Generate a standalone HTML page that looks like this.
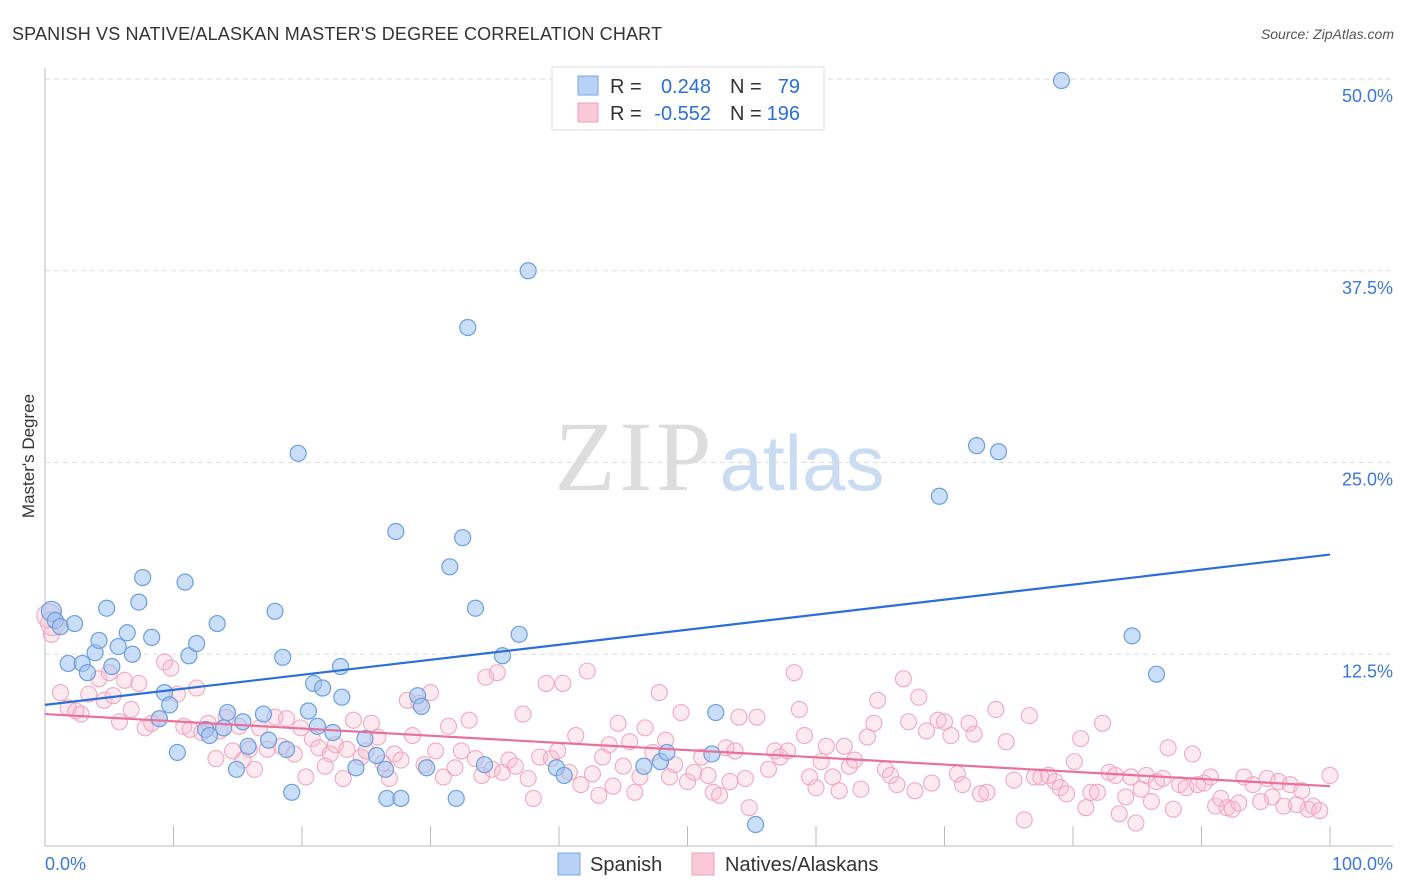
<!DOCTYPE html>
<html><head><meta charset="utf-8"><style>
body{margin:0;background:#fff;font-family:"Liberation Sans",sans-serif;}
svg{display:block}
</style></head><body>
<svg id="chart" width="1406" height="892" xmlns="http://www.w3.org/2000/svg">
<text x="12" y="40" font-size="18" fill="#333" textLength="650">SPANISH VS NATIVE/ALASKAN MASTER'S DEGREE CORRELATION CHART</text>
<text x="1394" y="39" font-size="14" font-style="italic" fill="#555" text-anchor="end">Source: ZipAtlas.com</text>
<text x="34" y="456" font-size="17" fill="#333" text-anchor="middle" transform="rotate(-90 34 456)">Master's Degree</text>
<g>
<text x="633" y="490" font-size="100" font-family="Liberation Serif,serif" fill="#ddd" text-anchor="middle" textLength="157">ZIP</text>
<text x="802" y="490" font-size="78" fill="#c9dcf2" text-anchor="middle" textLength="165">atlas</text>
</g>
<g id="grid"></g><g id="axes"></g><g id="pink"></g><g id="blue"></g><g id="lines"></g>
<g>
<rect x="552" y="67" width="272" height="63" fill="#fff" stroke="#ddd"/>
<rect x="578" y="76" width="20" height="19" fill="#b8d2f5" stroke="#7aa6e4"/>
<rect x="578" y="103" width="20" height="19" fill="#f9c9d8" stroke="#f0a0b8"/>
<text x="610" y="93" font-size="20" fill="#333">R =</text><text x="711" y="93" font-size="20" fill="#2a6fd6" text-anchor="end">0.248</text>
<text x="730" y="93" font-size="20" fill="#333">N =</text><text x="800" y="93" font-size="20" fill="#2a6fd6" text-anchor="end">79</text>
<text x="610" y="120" font-size="20" fill="#333">R =</text><text x="711" y="120" font-size="20" fill="#2a6fd6" text-anchor="end">-0.552</text>
<text x="730" y="120" font-size="20" fill="#333">N =</text><text x="800" y="120" font-size="20" fill="#2a6fd6" text-anchor="end">196</text>
</g>
<g>
<rect x="558" y="853" width="22" height="22" fill="#b8d2f5" stroke="#7aa6e4"/>
<text x="590" y="871" font-size="20" fill="#333">Spanish</text>
<rect x="692" y="853" width="22" height="22" fill="#f9c9d8" stroke="#f0a0b8"/>
<text x="725" y="871" font-size="20" fill="#333">Natives/Alaskans</text>
</g>
</svg>
<script>
const yTicks=[12.5,25,37.5,50];
const yTickLabels=["12.5%","25.0%","37.5%","50.0%"];
const blueX=[0.5,0.8,1.2,2.3,1.8,2.9,3.3,3.9,4.2,4.8,5.2,5.7,6.4,6.8,7.3,7.6,8.3,9.3,9.7,8.9,10.3,10.9,11.2,11.8,12.5,12.8,13.4,13.9,14.2,14.9,15.4,15.8,17.0,17.4,17.9,18.5,18.8,19.2,19.7,20.5,20.9,21.2,21.6,22.4,23.0,23.1,24.2,24.9,25.8,26.5,26.6,27.3,27.7,29.0,29.3,29.7,31.5,32.0,32.5,32.9,33.5,34.2,35.6,36.9,37.6,39.8,40.4,46.6,47.9,48.4,51.9,52.2,55.3,69.6,72.5,74.2,79.1,84.6,86.5];
const blueY=[15.3,14.7,14.3,14.5,11.9,11.9,11.3,12.6,13.4,15.5,11.7,13.0,13.9,12.5,15.9,17.5,13.6,10.0,9.2,8.3,6.1,17.2,12.4,13.2,7.6,7.2,14.5,7.7,8.7,5.0,8.1,6.5,8.6,6.9,15.3,12.3,6.3,3.5,25.6,8.8,10.6,7.8,10.3,7.4,11.7,9.7,5.1,7.0,5.9,5.0,3.1,20.5,3.1,9.8,9.1,5.1,18.2,3.1,20.1,33.8,15.5,5.3,12.4,13.8,37.5,5.1,4.6,5.2,5.5,6.1,6.0,8.7,1.4,22.8,26.1,25.7,49.9,13.7,11.2];
const pinkX=[0.3,0.5,1.2,1.8,2.4,2.8,3.4,4.2,4.6,5.0,5.3,5.8,6.2,6.7,7.3,7.8,8.3,8.9,9.3,9.8,10.3,10.8,11.3,11.8,12.2,12.7,13.3,13.6,14.1,14.6,15.1,15.4,15.9,16.3,16.7,17.3,17.9,18.4,18.8,19.4,19.9,20.3,20.8,21.3,21.8,22.2,22.6,23.2,23.5,24.0,24.6,25.0,25.4,25.9,26.3,26.8,27.2,27.7,28.2,28.6,29.1,29.5,30.0,30.4,31.0,31.4,31.9,32.4,33.0,33.5,34.0,34.3,34.8,35.2,35.6,36.1,36.6,37.2,37.6,38.0,38.5,39.0,39.4,39.9,40.3,40.8,41.3,41.7,42.2,42.6,43.1,43.4,43.9,44.2,44.6,45.0,45.5,45.9,46.3,46.7,47.3,47.8,48.3,48.6,49.0,49.5,50.0,50.5,51.1,51.6,52.0,52.5,53.0,53.3,53.7,54.0,54.5,54.8,55.4,56.3,56.8,57.2,57.8,58.3,58.7,59.1,59.5,60.0,60.4,60.8,61.3,61.8,62.2,62.6,63.0,63.5,64.0,64.5,64.8,65.4,65.8,66.3,66.8,67.2,67.7,68.0,68.6,69.0,69.5,70.0,70.5,71.0,71.4,71.9,72.3,72.8,73.3,74.0,74.8,75.4,76.2,76.6,77.0,77.5,78.1,78.6,79.0,79.5,80.1,80.6,81.0,81.4,81.9,82.3,82.8,83.3,83.6,84.1,84.5,84.9,85.3,85.7,86.1,86.5,87.0,87.4,87.8,88.3,88.8,89.3,89.7,90.2,90.7,91.1,91.5,92.0,92.4,92.9,93.3,94.0,94.6,95.1,95.5,96.0,96.4,96.9,97.4,97.8,98.3,98.7,99.2,100.0,0.6];
const pinkY=[15.0,13.8,10.0,9.0,8.8,8.6,9.9,10.9,9.5,11.3,9.8,8.1,10.8,8.9,10.6,7.7,8.0,8.3,12.0,11.6,9.9,7.8,7.6,10.3,7.4,8.0,5.7,7.5,8.4,6.2,7.8,5.6,6.3,5.0,7.7,6.3,8.4,6.5,8.3,6.0,7.7,4.5,7.0,6.4,5.2,6.0,6.6,4.4,6.3,8.2,5.8,6.2,8.0,7.1,5.4,4.4,6.0,5.6,9.5,7.2,9.3,5.3,10.0,6.2,4.5,7.8,5.1,6.2,8.2,5.7,4.6,11.0,5.0,11.3,4.8,5.6,5.2,8.6,4.4,3.1,5.8,10.6,5.7,6.2,10.6,4.8,7.2,4.0,11.4,4.7,3.3,5.8,6.6,3.9,8.0,5.2,6.8,3.5,4.5,7.7,6.1,10.0,6.9,4.5,5.3,8.7,4.2,4.8,5.8,4.6,3.5,3.3,6.4,4.2,6.2,8.4,4.4,2.5,8.4,5.0,6.2,5.8,6.2,11.3,8.9,7.2,4.5,3.8,5.5,6.5,4.5,3.6,6.5,5.2,5.6,3.7,7.1,8.0,9.5,5.0,4.6,4.0,10.9,8.1,3.6,9.7,7.5,4.1,8.2,8.1,7.2,4.7,4.0,8.0,7.3,3.4,3.5,8.9,6.8,4.3,1.7,8.5,4.5,4.5,4.6,4.2,3.8,3.4,5.5,7.0,2.5,3.5,3.5,8.0,4.8,4.6,2.1,3.2,4.5,1.5,3.7,4.6,2.9,4.2,4.4,6.4,2.4,4.0,3.8,6.0,4.0,4.1,4.5,2.6,3.1,2.5,2.4,2.8,4.5,4.0,2.9,4.4,3.2,4.2,2.6,4.0,2.7,3.6,2.4,2.6,2.3,4.6,14.5];
const blueTrend=[9.2,19.0];
const pinkTrend=[8.6,3.9];
const NS="http://www.w3.org/2000/svg";
const X0=45,X1=1330,Y0=846,YPER=15.34;
function sx(v){return X0+(X1-X0)*v/100;}
function sy(v){return Y0-v*YPER;}
function mk(tag,attrs,parent){const e=document.createElementNS(NS,tag);for(const k in attrs)e.setAttribute(k,attrs[k]);parent.appendChild(e);return e;}
const grid=document.getElementById('grid');
yTicks.forEach((t,i)=>{
  const l=mk('line',{x1:45,x2:1393,y1:sy(t),y2:sy(t),stroke:'#ddd','stroke-dasharray':'5,4'},grid);
  
  
  const tx=mk('text',{x:1393,y:sy(t)+23,'font-size':18,fill:'#3b78d8','text-anchor':'end'},grid);
  tx.textContent=yTickLabels[i];
  
  
});
const axes=document.getElementById('axes');
const xa=mk('line',{x1:45,x2:1393,y1:846,y2:846,stroke:'#bbb'},axes);


const ya=mk('line',{x1:45,x2:45,y1:68,y2:846,stroke:'#bbb'},axes);


for(let i=0;i<=10;i++){
  const t=mk('line',{x1:sx(i*10),x2:sx(i*10),y1:826,y2:846,stroke:'#bbb'},axes);
  
  
}
const xl=mk('text',{x:45,y:870,'font-size':18,fill:'#3b78d8'},axes);xl.textContent='0.0%';


const xr=mk('text',{x:1393,y:870,'font-size':18,fill:'#3b78d8','text-anchor':'end'},axes);xr.textContent='100.0%';


const pg=document.getElementById('pink');
pinkX.forEach((x,i)=>{
  const big=(i===0||i===pinkX.length-1);
  const c=mk('circle',{cx:sx(x),cy:sy(pinkY[i]),r:big?12:8,fill:'rgba(248,185,205,0.3)',stroke:'#f0a8be','stroke-width':1.1},pg);
  
  
});
const bg=document.getElementById('blue');
blueX.forEach((x,i)=>{
  const c=mk('circle',{cx:sx(x),cy:sy(blueY[i]),r:i===0?10:8,fill:'rgba(160,195,240,0.55)',stroke:'#6a9fe0','stroke-width':1.2},bg);
  
  
});
const lg=document.getElementById('lines');
const bl=mk('line',{x1:sx(0),y1:sy(blueTrend[0]),x2:sx(100),y2:sy(blueTrend[1]),stroke:'#2a6fd6','stroke-width':2.2},lg);


const pl=mk('line',{x1:sx(0),y1:sy(pinkTrend[0]),x2:sx(100),y2:sy(pinkTrend[1]),stroke:'#e8709a','stroke-width':2.2},lg);


</script>
</body></html>
